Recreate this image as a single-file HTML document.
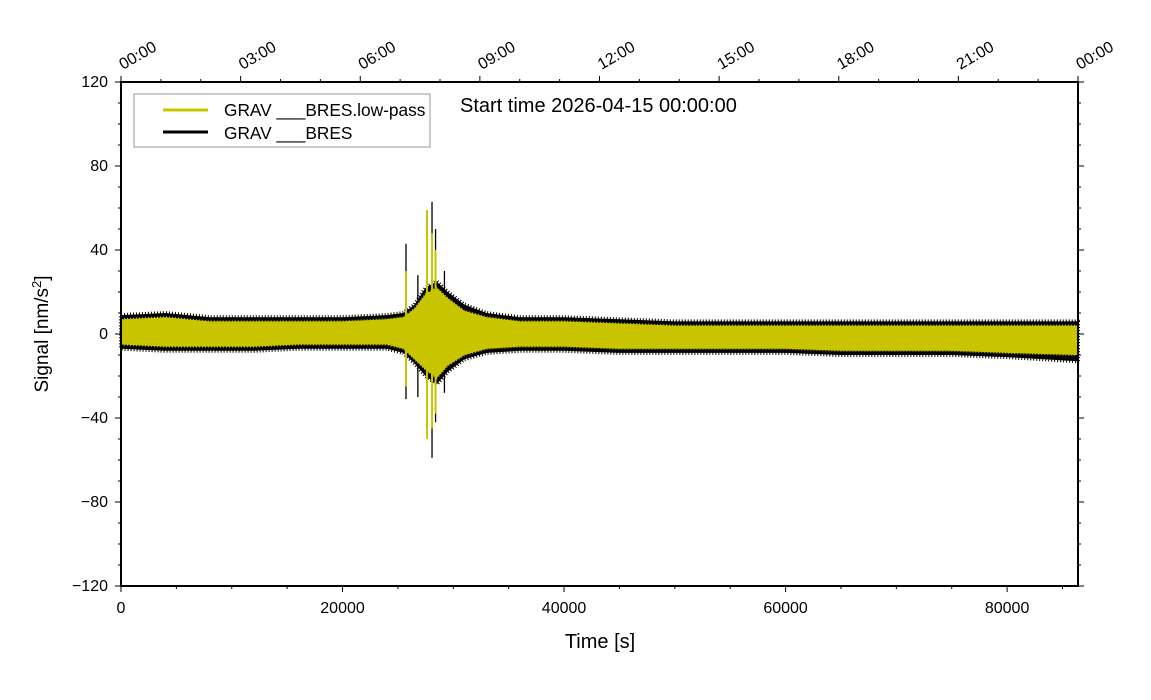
<!DOCTYPE html>
<html><head><meta charset="utf-8"><style>
body{margin:0;background:#fff;}
svg{display:block;font-family:"Liberation Sans",sans-serif;}
</style></head><body>
<svg id="chart" width="1151" height="700"></svg>
<script>
const times=[0,4000,8000,12000,16000,20000,24000,25500,26500,27500,28500,29500,31000,33000,36000,40000,45000,50000,55000,60000,65000,70000,75000,80000,86400];
const blackHi=[9,10,8,8,8,8,9,10,14,22,25,20,14,10,8,8,7,6,6,6,6,6,6,6,6];
const blackLo=[-7,-8,-8,-8,-7,-7,-7,-9,-14,-20,-24,-18,-12,-9,-8,-8,-9,-9,-9,-9,-10,-10,-10,-11,-13];
const yellowHi=[7,8,6,6,6,6,7,8,12,19,22,17,11,8,6,6,5,4,4,4,4,4,4,4,4];
const yellowLo=[-5,-6,-6,-6,-5,-5,-5,-7,-12,-17,-21,-15,-10,-7,-6,-6,-7,-7,-7,-7,-8,-8,-8,-9,-10];
const blackSpikeT=[25730,26800,27630,28080,28400,29200];
const blackSpikeHi=[43,28,58,63,50,30];
const blackSpikeLo=[-31,-30,-46,-59,-42,-28];
const yellowSpikeT=[25730,27630,28080,28400];
const yellowSpikeHi=[30,59,48,40];
const yellowSpikeLo=[-25,-50,-45,-38];
const yTicks=[-120,-80,-40,0,40,80,120];
const xTicks=[0,20000,40000,60000,80000];
const topLabels=["00:00","03:00","06:00","09:00","12:00","15:00","18:00","21:00","00:00"];

const NS="http://www.w3.org/2000/svg";
const svg=document.getElementById('chart');
const L=121,R=1078,T=82,B=586;
const xs=t=>L+t/86400*(R-L);
const ys=v=>T+(120-v)/240*(B-T);
function mk(tag,a,parent){const e=document.createElementNS(NS,tag);for(const k in a)e.setAttribute(k,a[k]);(parent||svg).appendChild(e);return e;}

function band(hi,lo,color,name,sw){
  let d="M"+times.map((t,i)=>xs(t)+","+ys(hi[i])).join(" L");
  for(let i=times.length-1;i>=0;i--)d+=" L"+xs(times[i])+","+ys(lo[i]);
  const p=mk('path',{d:d+"Z",fill:color,stroke:color,'stroke-width':sw,'stroke-dasharray':'1 2','stroke-linejoin':'round'});
  
  
}
function spikes(T_,H,Lo,color,name,w){
  T_.forEach((t,i)=>{
    const l=mk('line',{x1:xs(t),x2:xs(t),y1:ys(H[i]),y2:ys(Lo[i]),stroke:color,'stroke-width':w});
    
    
  });
}
band(blackHi,blackLo,"#000","raw-signal-band",4);
spikes(blackSpikeT,blackSpikeHi,blackSpikeLo,"#000","raw-signal-spike",1.3);
band(yellowHi,yellowLo,"#c8c400","lowpass-signal-band",2);
spikes(yellowSpikeT,yellowSpikeHi,yellowSpikeLo,"#c8c400","lowpass-signal-spike",2);

const fr=mk('rect',{x:L,y:T,width:R-L,height:B-T,fill:'none',stroke:'#000','stroke-width':2});



for(let v=-120;v<=120;v+=10){
  const major=v%40===0, len=major?6:3;
  mk('line',{x1:L,x2:L-len,y1:ys(v),y2:ys(v),stroke:'#000','stroke-width':1});
  mk('line',{x1:R,x2:R+len,y1:ys(v),y2:ys(v),stroke:'#000','stroke-width':1});
}
yTicks.forEach(v=>{
  const t=mk('text',{x:L-13,y:ys(v)+5,'text-anchor':'end','font-size':16});
  t.textContent=v<0?"\u2212"+(-v):String(v);
  
  
});
for(let v=0;v<=85000;v+=5000){
  const major=v%20000===0,len=major?6:3;
  mk('line',{x1:xs(v),x2:xs(v),y1:B,y2:B+len,stroke:'#000','stroke-width':1});
}
xTicks.forEach(v=>{
  const t=mk('text',{x:xs(v),y:B+27,'text-anchor':'middle','font-size':16});
  t.textContent=v;
  
  
});
for(let h=0;h<=24;h++){
  const major=h%3===0,len=major?6:3;
  mk('line',{x1:xs(h*3600),x2:xs(h*3600),y1:T,y2:T-len,stroke:'#000','stroke-width':1});
}
topLabels.forEach((s,i)=>{
  const x=xs(i*3*3600)+2,y=T-12;
  const t=mk('text',{x:x,y:y,'text-anchor':'start','font-size':16,transform:`rotate(-30 ${x} ${y})`});
  t.textContent=s;
  
  
});
let t=mk('text',{x:600,y:648,'text-anchor':'middle','font-size':20});
t.textContent="Time [s]";


t=mk('text',{x:0,y:0,'text-anchor':'middle','font-size':19,transform:'translate(48 334) rotate(-90)'});
t.innerHTML='Signal [nm/s<tspan dy="-7" font-size="13">2</tspan><tspan dy="7">]</tspan>';


t=mk('text',{x:460,y:112,'font-size':20});
t.textContent="Start time 2026-04-15 00:00:00";


const lg=mk('g',{});


mk('rect',{x:134,y:94,width:296,height:53,fill:'#fff',stroke:'#999','stroke-width':1},lg);
mk('line',{x1:163,x2:208,y1:110,y2:110,stroke:'#c8c400','stroke-width':3},lg);
mk('line',{x1:163,x2:208,y1:132,y2:132,stroke:'#000','stroke-width':3},lg);
t=mk('text',{x:224,y:116,'font-size':17.3},lg);
t.textContent="GRAV ___BRES.low-pass";


t=mk('text',{x:224,y:139,'font-size':17.3},lg);
t.textContent="GRAV ___BRES";


</script>
</body></html>
